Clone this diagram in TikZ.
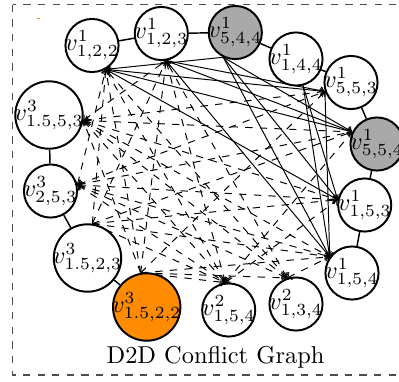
\documentclass[tikz,border=0pt]{standalone}
\usepackage{tikz}
\usetikzlibrary{arrows}
\definecolor{busygray}{RGB}{169,169,169}
\definecolor{pickorange}{RGB}{255,140,0}
\tikzstyle{vertex} = [circle, draw=black, line width=0.8pt, fill=white, inner sep=-1.2pt, minimum size=20.5pt]
\tikzstyle{busy} = [vertex, fill=busygray]
\tikzstyle{pick} = [vertex, fill=pickorange]
\tikzstyle{hard} = [->, line width=0.4pt]
\tikzstyle{soft} = [->, dashed, line width=0.4pt]

\begin{document}
\begin{tikzpicture}[x=0.41pt, y=-0.41pt]
\useasboundingbox (0,0) rectangle (399,381);
\draw[dashed, black!70, line width=0.6pt] (12.7,4.7) rectangle (405,375);
\fill[pickorange] (36.5,17.6) rectangle (39.5,18.6);

% first tier
\node (v122) [vertex] at (92,45.5) {$v^1_{1,2,2}$};
\node (v123) [vertex] at (161.3,33.5) {$v^1_{1,2,3}$};
\node (v544) [busy] at (235.3,32.5) {$v^1_{5,4,4}$};
\node (v144) [vertex] at (296,59) {$v^1_{1,4,4}$};
\node (v553) [vertex] at (351,82.5) {$v^1_{5,5,3}$};
\node (v554) [busy] at (377,144) {$v^1_{5,5,4}$};
\node (v153) [vertex] at (364.7,205) {$v^1_{1,5,3}$};
\node (v154) [vertex] at (352,273) {$v^1_{1,5,4}$};

% second and third tier
\node (w134) [vertex] at (296,304) {$v^2_{1,3,4}$};
\node (w154) [vertex] at (228.7,310) {$v^2_{1,5,4}$};
\node (u1522) [pick] at (146.7,307) {$v^3_{1.5,2,2}$};
\node (u1523) [vertex] at (87.5,258) {$v^3_{1.5,2,3}$};
\node (u253) [vertex] at (50.5,191) {$v^3_{2,5,3}$};
\node (u1553) [vertex] at (49,115) {$v^3_{1.5,5,3}$};

\node (title) at (215.5,357) {D2D Conflict Graph};

% ring
\draw[line width=0.6pt] (v122) -- (v123);
\draw[line width=0.6pt] (v123) -- (v544);
\draw[line width=0.6pt] (v544) -- (v144);
\draw[line width=0.6pt] (v144) -- (v553);
\draw[line width=0.6pt] (v553) -- (v554);
\draw[line width=0.6pt] (v554) -- (v153);
\draw[line width=0.6pt] (v153) -- (v154);
\draw[line width=0.6pt] (u1553) -- (u253);
\draw[line width=0.6pt] (u253) -- (u1523);
\draw[line width=0.6pt] (u1523) -- (u1522);

% solid conflicts
\draw[hard] (v544.-116) -- (v122.-60);
\draw[hard] (v544.-116) -- (v554.154);
\draw[hard] (v544.-116) -- (v153.169);
\draw[hard] (v544.-116) -- (v154.144);
\draw[hard] (v144.-75) -- (v153.169);
\draw[hard] (v144.-75) -- (v154.144);
\draw[hard, <->] (v122.-60) -- (v553.-161);
\draw[hard, <->] (v122.-60) -- (v554.154);
\draw[hard, <->] (v122.-60) -- (v153.169);
\draw[hard, <->] (v123.-80) -- (v553.-161);
\draw[hard, <->] (v123.-80) -- (v554.154);
\draw[hard, <->] (v123.-80) -- (v154.144);
\draw[hard, <->] (v553.-161) -- (v154.144);

% dashed conflicts
\draw[soft] (u1522.100) -- (v122.-60);
\draw[soft] (u1522.100) -- (v123.-80);
\draw[soft] (u1522.100) -- (v553.-161);
\draw[soft] (u1522.100) -- (v154.144);
\draw[soft] (u1522.100) -- (w154.97);
\draw[soft] (u1522.100) -- (w134.109);
\draw[soft] (u1522.100) -- (u1553.-9);
\draw[soft] (u1523.82) -- (v122.-60);
\draw[soft] (u1523.82) -- (v123.-80);
\draw[soft] (u1523.82) -- (v554.154);
\draw[soft] (u1523.82) -- (v153.169);
\draw[soft] (u1523.82) -- (v154.144);
\draw[soft] (u1523.82) -- (w154.97);
\draw[soft, <->] (u1553.-9) -- (v123.-80);
\draw[soft, <->] (u1553.-9) -- (v553.-161);
\draw[soft, <->] (u1553.-9) -- (v554.154);
\draw[soft, <->] (u1553.-9) -- (v153.169);
\draw[soft, <->] (u1553.-9) -- (v154.144);
\draw[soft, <->] (u1553.-9) -- (w154.97);
\draw[soft, <->] (u1553.-9) -- (w134.109);
\draw[soft, <->] (u253.13) -- (v122.-60);
\draw[soft, <->] (u253.13) -- (v553.-161);
\draw[soft, <->] (u253.13) -- (v554.154);
\draw[soft, <->] (u253.13) -- (v153.169);
\draw[soft, <->] (u253.13) -- (v154.144);
\draw[soft, <->] (u253.13) -- (w154.97);
\draw[soft, <->] (u253.13) -- (w134.109);
\draw[soft, <->] (w154.97) -- (v122.-60);
\draw[soft, <->] (w154.97) -- (v123.-80);
\draw[soft, <->] (w154.97) -- (v554.154);
\draw[soft, <->] (w154.97) -- (v153.169);
\draw[soft, <->] (w134.109) -- (v122.-60);
\draw[soft, <->] (w134.109) -- (v123.-80);
\draw[soft, <->] (w134.109) -- (v154.144);
\end{tikzpicture}
\end{document}
